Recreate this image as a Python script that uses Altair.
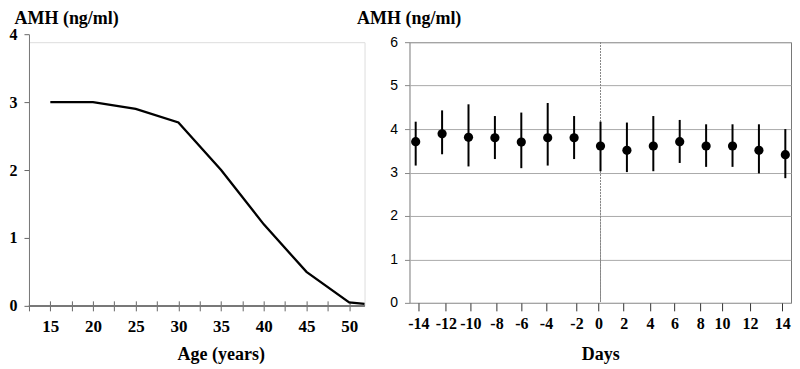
import altair as alt
import pandas as pd

SERIF = "Liberation Serif"
SANS = "Liberation Sans"

# ---- Left panel: AMH vs age ----
ages = [15, 20, 25, 30, 35, 40, 45, 50, 51.8]
amh_age = [3.0, 3.0, 2.9, 2.7, 2.0, 1.2, 0.5, 0.05, 0.03]
age_ticks = [12.5, 15, 17.5, 20, 22.5, 25, 27.5, 30, 32.5, 35, 37.5, 40, 42.5, 45, 47.5, 50]
age_yticks = [0, 1, 2, 3, 4]

# ---- Right panel: AMH over the cycle ----
days = [-14, -12, -10, -8, -6, -4, -2, 0, 2, 4, 6, 8, 10, 12, 14]
amh_mean = [3.71, 3.89, 3.81, 3.80, 3.70, 3.80, 3.80, 3.61, 3.51, 3.61, 3.71, 3.61, 3.61, 3.51, 3.41]
amh_hi = [4.17, 4.43, 4.57, 4.30, 4.38, 4.60, 4.30, 4.17, 4.15, 4.30, 4.21, 4.11, 4.11, 4.11, 4.00]
amh_lo = [3.16, 3.42, 3.14, 3.31, 3.10, 3.16, 3.31, 3.03, 3.01, 3.03, 3.22, 3.13, 3.13, 2.98, 2.87]
# tick marks of the day axis sit slightly off the data positions in the original
day_tick_pos = [-13.8, -11.71, -9.86, -7.88, -6.0, -4.13, -1.82, -0.16, 1.75, 3.74, 5.61, 7.55, 9.21, 11.33, 13.77]
day_yticks = [0, 1, 2, 3, 4, 5, 6]

LW = 336
LH = 272          # span of the left value axis (0..4)
RW, RH = 382, 261
DROP = 8          # left panel's top sits this much higher than the right frame

left_df = pd.DataFrame({"age": ages, "amh": amh_age})

xl_scale = alt.Scale(domain=[12.5, 51.8], nice=False, zero=False)
yl_scale = alt.Scale(domain=[0, 4], nice=False, range=[LH - DROP, -DROP])

xl_axis = alt.Axis(
    values=age_ticks,
    labelExpr="datum.value % 5 == 0 ? '' + datum.value : ''",
    tickSize=10, offset=-5, domain=False, grid=False,
    tickColor="#666", tickWidth=1,
    labelFont=SERIF, labelFontWeight="bold", labelFontSize=17, labelColor="black",
    labelPadding=8, labelOverlap=False,
    title="Age (years)", titleFont=SERIF, titleFontWeight="bold", titleFontSize=18,
    titleColor="black", titleBaseline="alphabetic", titleAlign="center",
    titleX=192, titleY=59,
)
yl_axis = alt.Axis(
    values=age_yticks, labelExpr="'' + datum.value",
    tickSize=5, tickColor="#666", domainColor="#777", grid=False,
    labelFont=SERIF, labelFontWeight="bold", labelFontSize=16, labelColor="black",
    labelPadding=7,
    title="AMH (ng/ml)", titleFont=SERIF, titleFontWeight="bold", titleFontSize=18,
    titleColor="black", titleAngle=0, titleAlign="left", titleBaseline="top",
    titleX=-15, titleY=-DROP - 25,
)

left_base = alt.Chart(left_df)
left_axisline = left_base.mark_rule(color="#777", strokeWidth=1).encode(
    y=alt.Y(datum=0, scale=yl_scale, axis=yl_axis)
)
left_line = left_base.mark_line(color="black", strokeWidth=2.3).encode(
    x=alt.X("age:Q", scale=xl_scale, axis=xl_axis),
    y=alt.Y("amh:Q", scale=yl_scale, axis=yl_axis),
)
left = alt.layer(left_axisline, left_line).properties(width=LW, height=LH - DROP)

right_df = pd.DataFrame({"day": days, "mean": amh_mean, "lo": amh_lo, "hi": amh_hi})

xr_scale = alt.Scale(domain=[-14.47, 14.43], nice=False, zero=False)
yr_scale = alt.Scale(domain=[0, 6], nice=False)
xr_axis = alt.Axis(
    values=day_tick_pos, labelExpr="'' + round(datum.value / 2) * 2",
    tickSize=8, tickColor="#333", tickWidth=1, domain=False, grid=False,
    labelFont=SERIF, labelFontWeight="bold", labelFontSize=16, labelColor="black",
    labelPadding=5, labelOverlap=False, labelFlush=False,
    title="Days", titleFont=SERIF, titleFontWeight="bold", titleFontSize=18,
    titleColor="black", titleBaseline="alphabetic", titleY=57,
)
yr_axis = alt.Axis(
    values=day_yticks, tickSize=5, tickColor="#888", domain=False,
    grid=True, gridColor="#aaa", gridWidth=1,
    labelFont=SANS, labelFontSize=14, labelColor="black", labelPadding=7,
    title="AMH (ng/ml)", titleFont=SERIF, titleFontWeight="bold", titleFontSize=18,
    titleColor="black", titleAngle=0, titleAlign="left", titleBaseline="top",
    titleX=-53, titleY=-DROP - 25,
)

rb = alt.Chart(right_df)
zero_line = rb.mark_rule(color="#888", strokeWidth=1, strokeDash=[1.5, 1.5]).encode(
    x=alt.X(datum=0, scale=xr_scale, axis=xr_axis)
)
bars = rb.mark_rule(color="black", strokeWidth=2).encode(
    x=alt.X("day:Q", scale=xr_scale, axis=xr_axis),
    y=alt.Y("lo:Q", scale=yr_scale, axis=yr_axis),
    y2="hi:Q",
)
pts = rb.mark_circle(color="black", size=85, opacity=1).encode(
    x=alt.X("day:Q", scale=xr_scale, axis=xr_axis),
    y=alt.Y("mean:Q", scale=yr_scale, axis=yr_axis),
)
right = alt.layer(zero_line, bars, pts).properties(
    width=RW, height=RH,
    view=alt.ViewBackground(stroke="#777", strokeWidth=1),
)

chart = alt.hconcat(left, right, spacing=45, bounds="flush").properties(
    padding={"left": 0, "top": 0, "right": 0, "bottom": 0}
).configure_view(stroke="transparent").configure_axis(
    labelOverlap=False
).configure(background="white")

chart.save("out.html", embed_options={"renderer": "svg", "actions": False})
